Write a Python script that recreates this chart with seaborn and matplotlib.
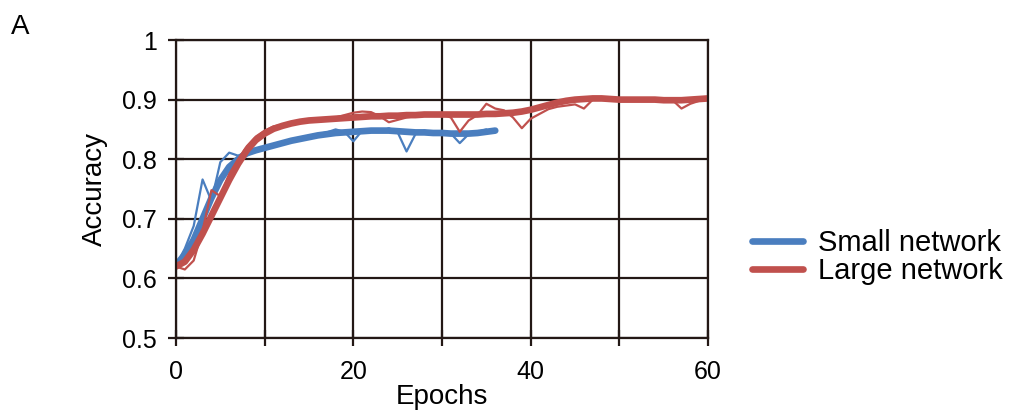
import numpy as np
import pandas as pd
import matplotlib
matplotlib.use("Agg")
import matplotlib.pyplot as plt
import seaborn as sns

# ---- data ----
small_raw = [0.622, 0.650, 0.688, 0.766, 0.730, 0.795, 0.811, 0.806, 0.812, 0.818,
             0.820, 0.824, 0.828, 0.832, 0.836, 0.838, 0.842, 0.845, 0.850, 0.846,
             0.830, 0.848, 0.850, 0.846, 0.852, 0.845, 0.813, 0.842, 0.848, 0.845,
             0.842, 0.843, 0.827, 0.842, 0.846, 0.850]
small_smooth = [0.622, 0.640, 0.665, 0.700, 0.735, 0.765, 0.787, 0.800, 0.810, 0.815,
                0.819, 0.823, 0.827, 0.831, 0.834, 0.837, 0.840, 0.842, 0.844, 0.845,
                0.846, 0.847, 0.848, 0.848, 0.848, 0.847, 0.846, 0.845, 0.845, 0.844,
                0.844, 0.843, 0.843, 0.843, 0.844, 0.846, 0.848]
large_raw = [0.620, 0.615, 0.630, 0.680, 0.748, 0.738, 0.775, 0.800, 0.822, 0.838,
             0.848, 0.855, 0.858, 0.862, 0.864, 0.866, 0.866, 0.866, 0.870, 0.874,
             0.878, 0.880, 0.879, 0.872, 0.862, 0.866, 0.870, 0.872, 0.873, 0.874,
             0.875, 0.870, 0.846, 0.865, 0.874, 0.893, 0.885, 0.882, 0.870, 0.852,
             0.868, 0.876, 0.884, 0.888, 0.890, 0.892, 0.885, 0.900, 0.902, 0.900,
             0.901, 0.900, 0.899, 0.899, 0.900, 0.900, 0.899, 0.885, 0.893, 0.898,
             0.902]
large_smooth = [0.620, 0.628, 0.648, 0.675, 0.705, 0.735, 0.765, 0.792, 0.815, 0.832,
                0.843, 0.851, 0.856, 0.860, 0.863, 0.865, 0.866, 0.867, 0.868, 0.869,
                0.870, 0.871, 0.872, 0.872, 0.873, 0.873, 0.874, 0.874, 0.875, 0.875,
                0.875, 0.875, 0.875, 0.875, 0.875, 0.876, 0.876, 0.877, 0.878, 0.880,
                0.883, 0.887, 0.891, 0.895, 0.898, 0.900, 0.901, 0.902, 0.902, 0.901,
                0.900, 0.900, 0.900, 0.900, 0.900, 0.899, 0.899, 0.899, 0.900, 0.901,
                0.902]
series_names = ["Small network", "Large network"]
y_ticks = [0.5, 0.6, 0.7, 0.8, 0.9, 1.0]
y_labels = ["0.5", "0.6", "0.7", "0.8", "0.9", "1"]
x_ticks = [0, 10, 20, 30, 40, 50, 60]
x_labels = ["0", "", "20", "", "40", "", "60"]

BLUE = "#4A7EBF"
RED = "#C0504D"
DARK = "#231815"

sns.set_theme(style="white")
plt.rcParams["font.family"] = ["Liberation Sans", "DejaVu Sans"]
plt.rcParams["text.color"] = "black"
plt.rcParams["axes.labelcolor"] = "black"

fig = plt.figure(figsize=(10.13, 4.19), dpi=100)
ax = fig.add_axes([0.1737, 0.1933, 0.5253, 0.7112])

sns.lineplot(x=np.arange(len(small_raw)), y=small_raw, ax=ax, color=BLUE, lw=1.6)
sns.lineplot(x=np.arange(len(small_smooth)), y=small_smooth, ax=ax, color=BLUE, lw=4.8,
             label=series_names[0], solid_capstyle="round")
sns.lineplot(x=np.arange(len(large_raw)), y=large_raw, ax=ax, color=RED, lw=1.6)
sns.lineplot(x=np.arange(len(large_smooth)), y=large_smooth, ax=ax, color=RED, lw=4.8,
             label=series_names[1], solid_capstyle="round")

ax.set_xlim(0, 60)
ax.set_ylim(0.5, 1.0)
ax.set_xticks(x_ticks)
ax.set_xticklabels(x_labels)
ax.set_yticks(y_ticks)
ax.set_yticklabels(y_labels)
ax.grid(True, color=DARK, lw=1.6)
ax.set_axisbelow(True)
for s in ax.spines.values():
    s.set_color(DARK)
    s.set_linewidth(1.6)
ax.tick_params(axis="both", bottom=True, left=True, direction="inout", length=12,
               width=1.6, color=DARK, labelsize=18, labelcolor="black")
ax.tick_params(axis="x", pad=10)
ax.tick_params(axis="y", pad=8)
ax.set_xlabel("Epochs", fontsize=20, labelpad=0)
ax.set_ylabel("Accuracy", fontsize=20, labelpad=10)

handles, labels = ax.get_legend_handles_labels()
ax.get_legend().remove()
fig.legend(handles, labels, loc="upper left", bbox_to_anchor=(0.728, 0.488),
           frameon=False, fontsize=21, handlelength=1.75, handletextpad=0.5,
           labelspacing=0.0, borderpad=0)

fig.text(0.011, 0.92, "A", fontsize=20)

fig.savefig("out.png", dpi=100)
